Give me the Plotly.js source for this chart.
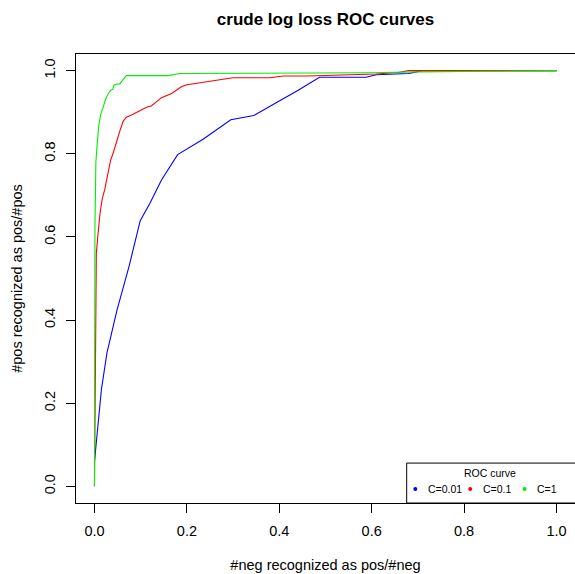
<!DOCTYPE html>
<html>
<head>
<meta charset="utf-8">
<script src="https://cdn.plot.ly/plotly-3.0.1.min.js"></script>
<style>html,body{margin:0;padding:0;background:#fff;}#chart{width:575px;height:574px;}</style>
</head>
<body>
<div id="chart"></div>
<script>
// ---- data ----
var seriesNames = ["C=0.01", "C=0.1", "C=1"];
var seriesColors = ["#0000ff", "#ff0000", "#00ee00"];

var fprC001 = [0, 0.008, 0.015, 0.027, 0.049, 0.075, 0.099, 0.12, 0.145, 0.18, 0.235, 0.295, 0.345, 0.397, 0.44, 0.487, 0.588, 0.61, 0.68, 0.71, 1.0];
var tprC001 = [0.06, 0.145, 0.233, 0.321, 0.425, 0.53, 0.639, 0.681, 0.737, 0.798, 0.835, 0.882, 0.892, 0.925, 0.952, 0.984, 0.984, 0.99, 0.993, 1.0, 1.0];

var fprC01 = [0, 0.002, 0.004, 0.007, 0.012, 0.017, 0.022, 0.027, 0.031, 0.035, 0.04, 0.048, 0.055, 0.062, 0.069, 0.08, 0.091, 0.105, 0.115, 0.123, 0.134, 0.145, 0.167, 0.188, 0.2, 0.25, 0.3, 0.38, 0.408, 0.46, 0.61, 0.66, 0.68, 1.0];
var tprC01 = [0, 0.45, 0.56, 0.6, 0.657, 0.693, 0.713, 0.741, 0.761, 0.785, 0.8, 0.833, 0.855, 0.878, 0.888, 0.893, 0.899, 0.908, 0.913, 0.915, 0.925, 0.935, 0.945, 0.961, 0.966, 0.975, 0.983, 0.983, 0.987, 0.987, 0.992, 0.996, 1.0, 1.0];

var fprC1 = [0, 0, 0.001, 0.003, 0.005, 0.006, 0.009, 0.013, 0.019, 0.024, 0.03, 0.035, 0.04, 0.042, 0.048, 0.055, 0.058, 0.069, 0.16, 0.185, 0.6, 0.7, 1.0];
var tprC1 = [0, 0.45, 0.62, 0.78, 0.8, 0.825, 0.865, 0.893, 0.913, 0.931, 0.945, 0.953, 0.955, 0.965, 0.968, 0.968, 0.973, 0.988, 0.988, 0.993, 0.995, 0.997, 1.0];

var xTicks = [0, 0.2, 0.4, 0.6, 0.8, 1.0];
var xTickLabels = ["0.0", "0.2", "0.4", "0.6", "0.8", "1.0"];
var yTicks = [0, 0.2, 0.4, 0.6, 0.8, 1.0];
var yTickLabels = ["0.0", "0.2", "0.4", "0.6", "0.8", "1.0"];

var chartTitle = "crude log loss ROC curves";
var xTitle = "#neg recognized as pos/#neg";
var yTitle = "#pos recognized as pos/#pos";
var legendTitle = "ROC curve";

// ---- build ----
var FONT = "Liberation Sans, Arial, Helvetica, sans-serif";
var xs = [fprC001, fprC01, fprC1];
var ys = [tprC001, tprC01, tprC1];
var traces = xs.map(function (x, i) {
  return {
    x: x, y: ys[i], type: "scatter", mode: "lines", name: seriesNames[i],
    line: { color: seriesColors[i], width: 1.1 }, showlegend: false, hoverinfo: "skip"
  };
});

// legend drawn in paper coords
var legX = [0.680, 0.790, 0.899];
var legTextX = [0.7007, 0.8108, 0.919];
var legY = 0.031;
var shapes = [{
  type: "rect", xref: "paper", yref: "paper", x0: 0.6627, x1: 1.05, y0: 0, y1: 0.0889,
  line: { color: "#000", width: 1 }, fillcolor: "#fff", layer: "above"
}];
var annotations = [{
  xref: "paper", yref: "paper", x: 0.829, y: 0.0667, text: legendTitle, showarrow: false,
  xanchor: "center", yanchor: "middle", font: { family: FONT, size: 10.5, color: "#000" }
}];
seriesNames.forEach(function (n, i) {
  shapes.push({
    type: "circle", xref: "paper", yref: "paper", xsizemode: "pixel", ysizemode: "pixel",
    xanchor: legX[i], yanchor: legY, x0: -2, x1: 2, y0: -2, y1: 2,
    fillcolor: seriesColors[i], line: { width: 0 }, layer: "above"
  });
  annotations.push({
    xref: "paper", yref: "paper", x: legTextX[i], y: legY, text: n, showarrow: false,
    xanchor: "left", yanchor: "middle", font: { family: FONT, size: 10.5, color: "#000" }
  });
});

var layout = {
  width: 575, height: 574,
  margin: { l: 76, r: 0, t: 54, b: 71, pad: 0 },
  paper_bgcolor: "#fff", plot_bgcolor: "#fff",
  font: { family: FONT, size: 14, color: "#000" },
  title: {
    text: "<b>" + chartTitle + "</b>", xref: "paper", x: 0.5, xanchor: "center",
    yref: "container", y: 0.967, yanchor: "middle", font: { family: FONT, size: 17, color: "#000" }
  },
  xaxis: {
    range: [-0.04, 1.04], tickvals: xTicks, ticktext: xTickLabels, showgrid: false, zeroline: false,
    showline: true, mirror: true, linecolor: "#000", linewidth: 1,
    ticks: "outside", ticklen: 9, tickcolor: "#000", tickwidth: 1, ticklabelstandoff: 6,
    tickfont: { family: FONT, size: 14.5, color: "#000" },
    title: { text: xTitle, font: { family: FONT, size: 14.5, color: "#000" }, standoff: 21 }
  },
  yaxis: {
    range: [-0.04, 1.04], tickvals: yTicks, ticktext: yTickLabels, showgrid: false, zeroline: false,
    showline: true, mirror: true, linecolor: "#000", linewidth: 1,
    ticks: "outside", ticklen: 9, tickcolor: "#000", tickwidth: 1, tickangle: -90, ticklabelstandoff: 5,
    tickfont: { family: FONT, size: 14.5, color: "#000" },
    title: { text: yTitle, font: { family: FONT, size: 14.5, color: "#000" }, standoff: 16 }
  },
  shapes: shapes,
  annotations: annotations
};

Plotly.newPlot("chart", traces, layout, { staticPlot: true, displayModeBar: false });
</script>
</body>
</html>
